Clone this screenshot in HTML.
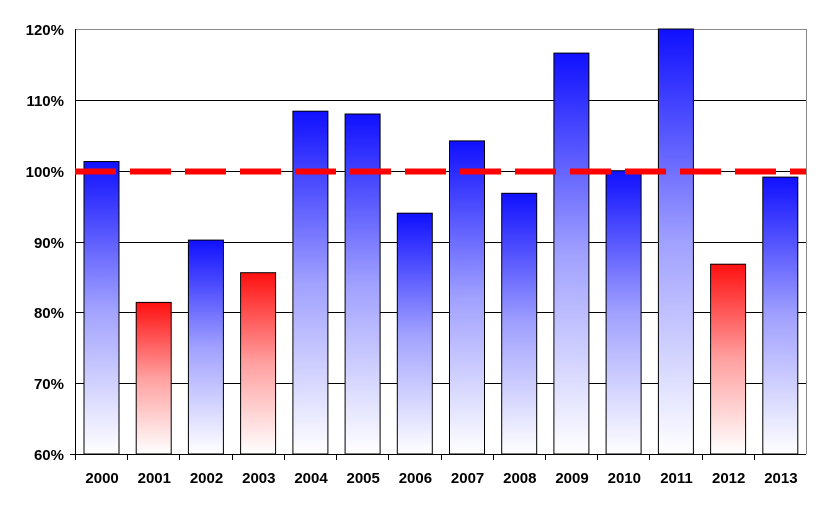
<!DOCTYPE html><html><head><style>body{margin:0;background:#fff}</style></head><body>
<svg width="838" height="514" xmlns="http://www.w3.org/2000/svg" font-family="Liberation Sans, Arial, sans-serif">
<defs>
<linearGradient id="b" x1="0" y1="0" x2="0" y2="1"><stop offset="0" stop-color="#1010ff"/><stop offset="0.5" stop-color="#a0a0ff"/><stop offset="1" stop-color="#ffffff"/></linearGradient>
<linearGradient id="r" x1="0" y1="0" x2="0" y2="1"><stop offset="0" stop-color="#ff1010"/><stop offset="0.5" stop-color="#ffa0a0"/><stop offset="1" stop-color="#ffffff"/></linearGradient>
</defs>
<g stroke="#000" stroke-width="1">
<line x1="75" y1="29.5" x2="806" y2="29.5" stroke="#888"/>
<line x1="75" y1="100.5" x2="806" y2="100.5"/>
<line x1="75" y1="171.5" x2="806" y2="171.5"/>
<line x1="75" y1="242.5" x2="806" y2="242.5"/>
<line x1="75" y1="312.5" x2="806" y2="312.5"/>
<line x1="75" y1="383.5" x2="806" y2="383.5"/>
<line x1="806.5" y1="29" x2="806.5" y2="454" stroke="#888"/>
</g>
<g stroke="#000" stroke-width="1" id="bars"></g>
<g stroke="#000">
<line x1="75.5" y1="29" x2="75.5" y2="454"/>
<line x1="70" y1="454.5" x2="806" y2="454.5"/>
</g>
<g id="ticks" stroke="#000"></g>
<line x1="75" y1="171.5" x2="806" y2="171.5" stroke="#f00" stroke-width="6" stroke-dasharray="41,14"/>
<g font-size="15" font-weight="bold" text-anchor="end">
<text x="64" y="35">120%</text><text x="64" y="106">110%</text><text x="64" y="177">100%</text>
<text x="64" y="248">90%</text><text x="64" y="318">80%</text><text x="64" y="389">70%</text><text x="64" y="460">60%</text>
</g>
<g id="lbl" font-size="15" font-weight="bold" text-anchor="middle"></g>
<script>
var v=[101.3,81.4,90.2,85.6,108.4,108,94,104.2,96.8,116.6,100,120,86.8,99.1];
var ns="http://www.w3.org/2000/svg",B=document.getElementById('bars'),T=document.getElementById('ticks'),L=document.getElementById('lbl');
var w=731/14;
for(var i=0;i<14;i++){var x0=75+i*w;var y=454-(v[i]-60)*70.83/10;
var r=document.createElementNS(ns,'rect');r.setAttribute('x',(x0+9).toFixed(1));r.setAttribute('y',y.toFixed(1));r.setAttribute('width',35);r.setAttribute('height',(454-y).toFixed(1));
r.setAttribute('fill',(i==1||i==3||i==12)?'url(#r)':'url(#b)');B.appendChild(r);
var t=document.createElementNS(ns,'line');t.setAttribute('x1',Math.round(x0)+.5);t.setAttribute('x2',Math.round(x0)+.5);t.setAttribute('y1',454);t.setAttribute('y2',460);T.appendChild(t);
var tx=document.createElementNS(ns,'text');tx.setAttribute('x',(x0+w/2+1).toFixed(1));tx.setAttribute('y',483);tx.textContent=2000+i;L.appendChild(tx);}
</script>
</svg></body></html>
